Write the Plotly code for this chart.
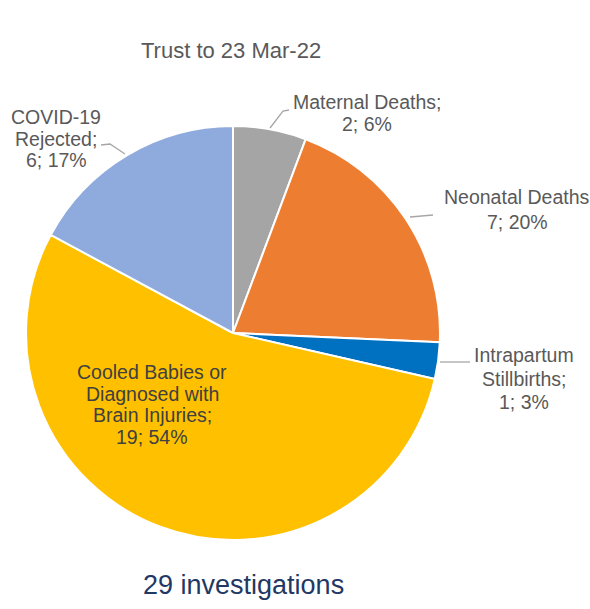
import plotly.graph_objects as go

# ---- data ----
categories = ["Maternal Deaths", "Neonatal Deaths", "Intrapartum Stillbirths",
              "Cooled Babies or Diagnosed with Brain Injuries", "COVID-19 Rejected"]
values = [2, 7, 1, 19, 6]
percents = [6, 20, 3, 54, 17]
colors = ["#A5A5A5", "#ED7D31", "#0070C0", "#FFC000", "#8FAADC"]
title_text = "Trust to 23 Mar-22"
footer_text = "29 investigations"

# how each label's name wraps into lines (text layout only)
name_lines = [
    ["Maternal Deaths;"],
    ["Neonatal Deaths"],
    ["Intrapartum", "Stillbirths;"],
    ["Cooled Babies or", "Diagnosed with", "Brain Injuries;"],
    ["COVID-19", "Rejected;"],
]

W, H = 590, 609

def px(x):
    return x / W

def py(y):
    return 1 - y / H

# pie placement (pixels)
cx, cy, r = 233, 333, 207

fig = go.Figure(go.Pie(
    labels=categories,
    values=values,
    marker=dict(colors=colors, line=dict(color="white", width=2)),
    sort=False,
    direction="clockwise",
    rotation=0,
    textinfo="none",
    hoverinfo="label+value+percent",
    showlegend=False,
    domain=dict(x=[px(cx - r), px(cx + r)], y=[py(cy + r), py(cy - r)]),
))

# label layout: (center x, first line y, line spacing, color)
label_pos = [
    (367, 102, 21.5, "#595959"),
    (517, 197, 25.5, "#595959"),
    (524, 355, 23.5, "#595959"),
    (152, 372, 21.7, "#404040"),
    (56, 117, 21.5, "#595959"),
]
label_font = "Arial, Liberation Sans, sans-serif"

annotations = []
for lines, v, p, (x, y0, dy, col) in zip(name_lines, values, percents, label_pos):
    all_lines = lines + [f"{v}; {p}%"]
    for i, t in enumerate(all_lines):
        annotations.append(dict(
            x=px(x), y=py(y0 + i * dy), xref="paper", yref="paper", text=t,
            showarrow=False, xanchor="center", yanchor="middle", align="center",
            font=dict(family=label_font, size=19.5, color=col),
        ))

annotations.append(dict(x=px(231), y=py(50), xref="paper", yref="paper", text=title_text,
                        showarrow=False, xanchor="center", yanchor="middle",
                        font=dict(family=label_font, size=22, color="#595959")))
annotations.append(dict(x=px(244), y=py(585), xref="paper", yref="paper", text=footer_text,
                        showarrow=False, xanchor="center", yanchor="middle",
                        font=dict(family=label_font, size=27, color="#1F3864")))

# leader lines (pixel paths)
leaders = [
    [(289, 110), (283, 111), (270, 128)],
    [(410, 217), (433, 215)],
    [(440, 362), (470, 362)],
    [(101, 145), (110, 144), (125, 154)],
]
shapes = []
for pts in leaders:
    path = "M " + " L ".join(f"{px(x)},{py(y)}" for x, y in pts)
    shapes.append(dict(type="path", path=path, xref="paper", yref="paper",
                       line=dict(color="#A6A6A6", width=1.3)))

fig.update_layout(
    width=W, height=H,
    margin=dict(l=0, r=0, t=0, b=0),
    paper_bgcolor="white", plot_bgcolor="white",
    annotations=annotations,
    shapes=shapes,
)

fig.write_html("out.html")
